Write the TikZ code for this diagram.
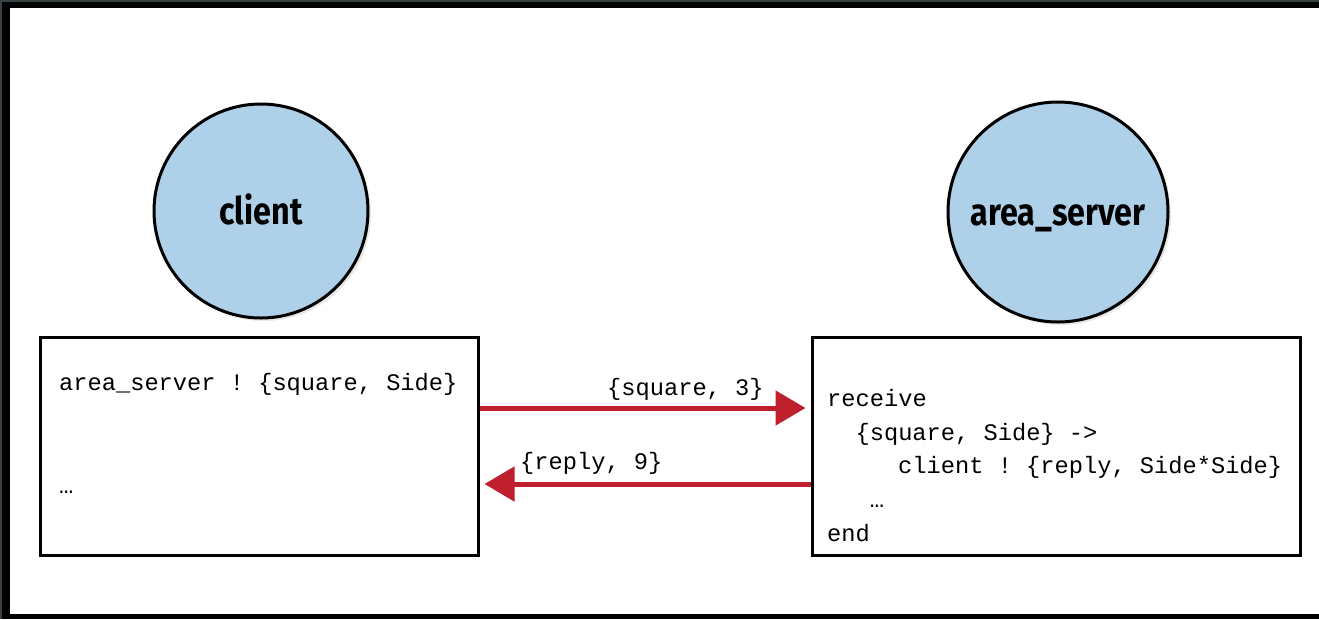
\documentclass[tikz,border=0pt]{standalone}
\usepackage{fontspec}
\setmonofont{Liberation Mono}
\newfontfamily\procfont[FakeStretch=0.85]{Fira Sans}
\usetikzlibrary{arrows.meta,shadows}

\definecolor{procblue}{RGB}{175,208,233}
\definecolor{msgred}{RGB}{192,31,45}
\definecolor{framegray}{RGB}{58,66,70}

\tikzset{
  process/.style={circle, draw=black, line width=3pt, fill=procblue,
    minimum size=214pt, inner sep=0pt,
    font=\procfont\bfseries\fontsize{38}{38}\selectfont,
    text height=27pt, text depth=0pt,
    drop shadow={opacity=0.18, shadow xshift=3pt, shadow yshift=-3pt}},
  codebox/.style={rectangle, draw=black, line width=3pt, fill=white,
    inner sep=0pt},
  code/.style={anchor=base west, inner sep=0pt,
    font=\ttfamily\fontsize{23.7}{28}\selectfont},
  msg/.style={draw=msgred, line width=5pt,
    -{Triangle[length=30pt, width=34pt, fill=msgred]}, shorten >=5pt},
  msglabel/.style={anchor=base west, inner sep=0pt,
    font=\ttfamily\fontsize{23.7}{28}\selectfont}
}

\begin{document}
\begin{tikzpicture}[x=1pt, y=-1pt]
  % page and dark frame
  \useasboundingbox (0,0) rectangle (1319,619);
  \fill[black] (0,0) rectangle (1319,619);
  \fill[framegray] (0,0) rectangle (1319,2);
  \fill[framegray] (0,0) rectangle (2,619);
  \fill[white] (10,8) rectangle (1319,614);

  % processes
  \node[process] (client) at (261,211) {client};
  \node[process, minimum size=220pt] (server) at (1058,212) {area\_server};

  % code boxes
  \node[codebox, minimum width=438pt, minimum height=218pt] (lbox) at (259,446) {};
  \node[codebox, minimum width=488pt, minimum height=218pt] (rbox) at (1056,446) {};

  % client code
  \node[code] (send) at (59,390) {area\_server ! \{square, Side\}};
  \node[code] (ldots) at (59,493) {…};

  % server code
  \node[code] (recv) at (827,406) {receive};
  \node[code] (pat)  at (855.4,440) {\{square, Side\} ->};
  \node[code] (rep)  at (898,473) {client ! \{reply, Side*Side\}};
  \node[code] (rdots) at (869.6,507) {…};
  \node[code] (fin)  at (827,541) {end};

  % messages
  \coordinate (sq) at (0,408);
  \coordinate (rp) at (0,484);
  \draw[msg] (lbox.east |- sq) -- (rbox.west |- sq);
  \draw[msg] (rbox.west |- rp) -- (lbox.east |- rp);
  \node[msglabel] (sqlabel) at (607,395) {\{square, 3\}};
  \node[msglabel] (rplabel) at (520,469) {\{reply, 9\}};
\end{tikzpicture}
\end{document}
